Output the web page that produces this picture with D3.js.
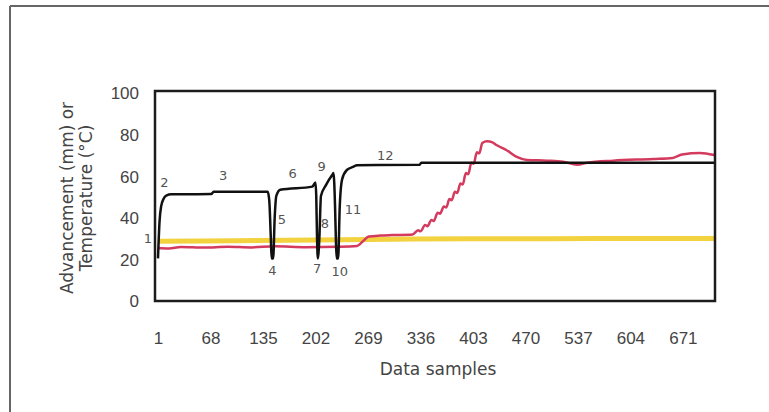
<!DOCTYPE html>
<html lang="en">
<head>
<meta charset="UTF-8">
<script src="https://cdn.jsdelivr.net/npm/d3@7"></script>
<style>
  body { margin: 0; background: #fff; }
  svg { display: block; font-family: "DejaVu Sans", sans-serif; }
  .tick text { fill: #444; font-size: 17px; }
  .note { fill: #555; font-size: 13px; }
</style>
</head>
<body>
<script>
// x ticks (Excel category labels every 67 samples)
var xTicks = [1, 68, 135, 202, 269, 336, 403, 470, 537, 604, 671];
var yTicks = [0, 20, 40, 60, 80, 100];

// advancement (black), [sample, mm]
var blackLine = [
  [1, 20], [3, 38], [5, 45], [8, 48.5], [12, 50.3], [18, 50.8], [69, 51], [72, 52],
  [141, 52], [143, 48], [145, 30], [146, 20], [148, 20], [150, 40], [152, 50], [157, 53],
  [198, 54.5], [202, 56.5], [203, 50], [204, 30], [205, 20], [207, 30], [209, 50],
  [215, 55], [224, 60.5], [225, 61], [227, 45], [228, 30], [229, 20], [231, 20],
  [233, 45], [236, 58], [242, 62.5], [250, 64], [255, 64.8], [335, 65], [337, 66], [711, 66]
];

// temperature 1 (red), [sample, degC]
var redLine = [
  [1, 25], [15, 24.8], [30, 25.5], [60, 25.2], [90, 25.6], [120, 25.3], [150, 25.8],
  [190, 25.4], [230, 25.6], [255, 26], [262, 28], [270, 30.5], [285, 31], [300, 31.2],
  [326, 31.5], [333, 33.5], [336, 33], [342, 36], [345, 35.5], [350, 38.5], [353, 38],
  [358, 42], [361, 41.5], [366, 45], [369, 44.5], [373, 48.5], [376, 48], [380, 52],
  [383, 51.5], [387, 56], [390, 55.5], [394, 61], [397, 60.5], [401, 66], [404, 65.5],
  [408, 71], [411, 70.5], [415, 75.5], [421, 76.3], [428, 75.8], [433, 74.5], [446, 72],
  [459, 68.8], [472, 67.3], [498, 67], [518, 66.5], [536, 65], [549, 66], [582, 67],
  [633, 67.8], [658, 68.3], [670, 70], [693, 70.7], [711, 69.7]
];

// temperature 2 (yellow), [sample, degC]
var yellowLine = [
  [1, 28.3], [100, 28.5], [200, 28.8], [300, 29.2], [400, 29.4], [500, 29.5], [600, 29.6], [711, 29.6]
];

// numbered event markers
var noteText   = ["1", "2", "3", "4", "5", "6", "7", "8", "9", "10", "11", "12"];
var noteSample = [-12, 9, 84, 147, 159, 173, 204, 214, 210, 233, 250, 291];
var noteValue  = [29.8, 56.7, 60.1, 14.4, 38.5, 61, 15.4, 37, 64, 13.5, 43.3, 69.7];

var W = 769, H = 412;
var svg = d3.select("body").append("svg").attr("width", W).attr("height", H);

// outer figure frame (top + left only)
svg.append("line").attr("x1", 10).attr("y1", 6).attr("x2", W).attr("y2", 6)
  .attr("stroke", "#666").attr("stroke-width", 2);
svg.append("line").attr("x1", 10).attr("y1", 6).attr("x2", 10).attr("y2", H)
  .attr("stroke", "#666").attr("stroke-width", 2);

var box = {left: 155, right: 715, top: 91, bottom: 301};

var x = d3.scaleLinear().domain([1, 712]).range([158, 715]);
var y = d3.scaleLinear().domain([0, 100]).range([300, 92]);

// y axis labels
var yAxis = svg.append("g").attr("transform", "translate(" + box.left + ",0)")
  .call(d3.axisLeft(y).tickValues(yTicks).tickSize(0).tickPadding(16));
yAxis.select(".domain").remove();
yAxis.selectAll("text").attr("dy", "0.4em");

// x axis labels
var xAxis = svg.append("g").attr("transform", "translate(0," + box.bottom + ")")
  .call(d3.axisBottom(x).tickValues(xTicks).tickSize(0));
xAxis.select(".domain").remove();
xAxis.selectAll("text").attr("y", 37).attr("dy", "0.35em");

var line = d3.line()
  .x(function(d) { return x(d[0]); })
  .y(function(d) { return y(d[1]); })
  .curve(d3.curveMonotoneX);

svg.append("path").datum(yellowLine).attr("d", line)
  .attr("fill", "none").attr("stroke", "#f3d23f").attr("stroke-width", 5);
svg.append("path").datum(redLine).attr("d", line)
  .attr("fill", "none").attr("stroke", "#d43a5e").attr("stroke-width", 2.5);
svg.append("path").datum(blackLine).attr("d", line)
  .attr("fill", "none").attr("stroke", "#111").attr("stroke-width", 2.5);

// plot frame
svg.append("rect")
  .attr("x", box.left).attr("y", box.top)
  .attr("width", box.right - box.left).attr("height", box.bottom - box.top)
  .attr("fill", "none").attr("stroke", "#1c1c1c").attr("stroke-width", 2.5);

svg.selectAll(".note").data(noteText).enter().append("text")
  .attr("class", "note")
  .attr("x", function(d, i) { return x(noteSample[i]); })
  .attr("y", function(d, i) { return y(noteValue[i]); })
  .attr("text-anchor", "middle")
  .attr("dy", "0.35em")
  .text(function(d) { return d; });

// axis titles
svg.append("text")
  .attr("transform", "translate(67,198) rotate(-90)")
  .attr("text-anchor", "middle").attr("dy", "0.35em")
  .attr("fill", "#444").attr("font-size", 17)
  .text("Advancement (mm) or");
svg.append("text")
  .attr("transform", "translate(86,198) rotate(-90)")
  .attr("text-anchor", "middle").attr("dy", "0.35em")
  .attr("fill", "#444").attr("font-size", 17)
  .text("Temperature (°C)");

svg.append("text")
  .attr("x", 438).attr("y", 369)
  .attr("text-anchor", "middle").attr("dy", "0.35em")
  .attr("fill", "#444").attr("font-size", 17)
  .text("Data samples");
</script>
</body>
</html>
